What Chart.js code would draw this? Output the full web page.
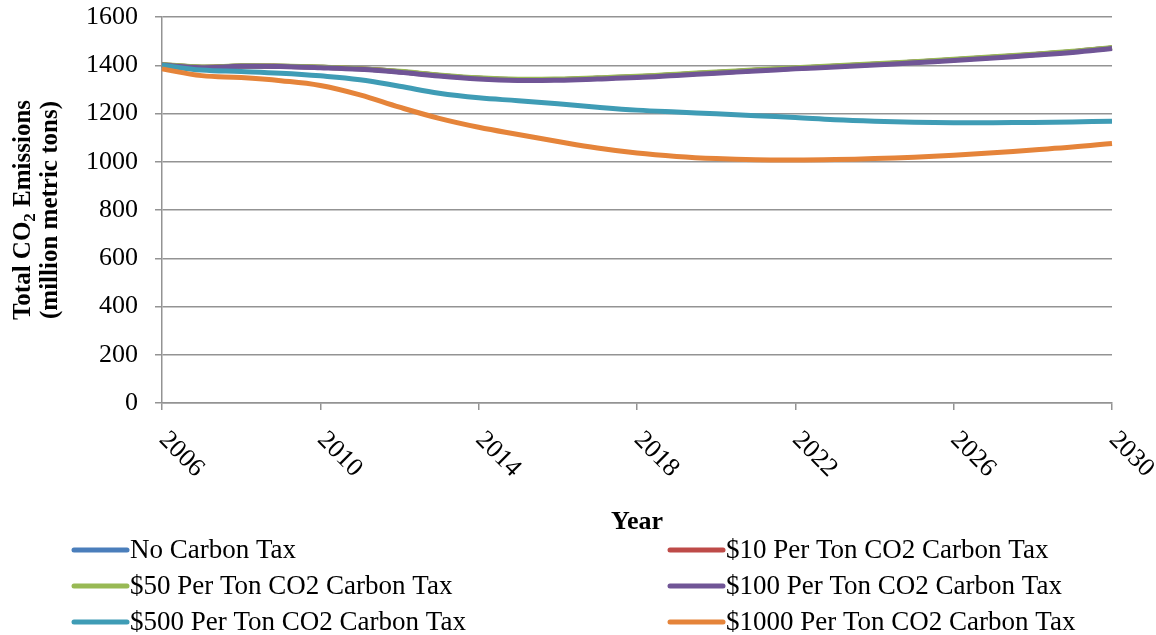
<!DOCTYPE html>
<html lang="en">
<head>
  <meta charset="UTF-8">
  <title>CO2 Emissions by Carbon Tax</title>
  <script src="https://cdn.jsdelivr.net/npm/chart.js"></script>
  <style>
    body, html {
      margin: 0;
      padding: 0;
      background-color: #ffffff;
    }
    .chart-container {
      width: 1156px;
      height: 635px;
    }
  </style>
</head>
<body>
  <div class="chart-container"><canvas id="myChart" width="1156" height="635"></canvas></div>

  <script>
    const years = ['2006','2007','2008','2009','2010','2011','2012','2013','2014','2015','2016','2017','2018',
                   '2019','2020','2021','2022','2023','2024','2025','2026','2027','2028','2029','2030'];

    const noTax   = [1402,1392,1397,1396,1392,1385,1373,1358,1346,1340,1341,1346,1352,1361,1370,1379,1388,1396,1404,1413,1423,1433,1444,1456,1472];
    const tax10   = [1402,1392,1397,1396,1392,1385,1373,1358,1346,1340,1341,1346,1352,1361,1370,1379,1388,1396,1404,1413,1423,1433,1444,1456,1472];
    const tax50   = [1403,1393,1398,1397,1393,1386,1375,1360,1348,1342,1343,1348,1354,1363,1372,1381,1390,1398,1406,1415,1425,1435,1446,1458,1474];
    const tax100  = [1401,1390,1396,1395,1390,1383,1371,1355,1343,1337,1338,1343,1349,1358,1367,1376,1385,1393,1401,1410,1420,1430,1441,1453,1469];
    const tax500  = [1400,1380,1374,1367,1356,1340,1313,1284,1265,1253,1240,1226,1214,1206,1199,1191,1183,1174,1168,1164,1162,1162,1163,1165,1168];
    const tax1000 = [1385,1357,1349,1336,1316,1277,1226,1180,1143,1113,1084,1057,1036,1022,1013,1008,1007,1009,1013,1019,1027,1037,1049,1061,1076];

    const seriesNames = ['No Carbon Tax', '$10 Per Ton CO2 Carbon Tax', '$50 Per Ton CO2 Carbon Tax',
                         '$100 Per Ton CO2 Carbon Tax', '$500 Per Ton CO2 Carbon Tax', '$1000 Per Ton CO2 Carbon Tax'];
    const seriesData = [noTax, tax10, tax50, tax100, tax500, tax1000];
    const seriesColors = ['#4a7ebb', '#be4b48', '#98b954', '#705596', '#3f9cb5', '#e5843a'];

    const yMin = 0, yMax = 1600, yStep = 200;

    const FONT = "'Liberation Serif', 'Times New Roman', serif";
    const GRID = '#939393';

    // x labels rotated clockwise, titles and the two-column legend
    const decorations = {
      id: 'decorations',
      afterDraw(chart) {
        const { ctx, chartArea } = chart;
        const xs = chart.scales.x;
        ctx.save();
        ctx.fillStyle = '#000';

        // rotated year labels, one every 4 years
        ctx.font = '26px ' + FONT;
        ctx.textAlign = 'left';
        ctx.textBaseline = 'middle';
        years.forEach((y, i) => {
          if (i % 4 !== 0) return;
          const px = xs.getPixelForValue(i);
          ctx.save();
          ctx.translate(px + 1, chartArea.bottom + 33);
          ctx.rotate(Math.PI / 4);
          ctx.fillText(y, 0, 0);
          ctx.restore();
        });

        // x title
        ctx.font = 'bold 26px ' + FONT;
        ctx.textAlign = 'center';
        ctx.textBaseline = 'middle';
        ctx.fillText('Year', (chartArea.left + chartArea.right) / 2, 522);

        // y title with subscript 2
        const cy = (chartArea.top + chartArea.bottom) / 2;
        ctx.save();
        ctx.translate(24, cy);
        ctx.rotate(-Math.PI / 2);
        const big = 'bold 25px ' + FONT, small = 'bold 17px ' + FONT;
        ctx.font = big;
        const p1 = 'Total CO', p3 = ' Emissions';
        const w1 = ctx.measureText(p1).width, w3 = ctx.measureText(p3).width;
        ctx.font = small;
        const w2 = ctx.measureText('2').width;
        let sx = -(w1 + w2 + w3) / 2;
        ctx.textAlign = 'left';
        ctx.font = big;
        ctx.fillText(p1, sx, 0);
        ctx.font = small;
        ctx.fillText('2', sx + w1, 7);
        ctx.font = big;
        ctx.fillText(p3, sx + w1 + w2, 0);
        ctx.textAlign = 'center';
        ctx.fillText('(million metric tons)', 0, 27);
        ctx.restore();

        // legend
        ctx.font = '27px ' + FONT;
        ctx.textAlign = 'left';
        ctx.textBaseline = 'middle';
        ctx.lineCap = 'round';
        chart.data.datasets.forEach((ds, i) => {
          const col = i % 2, row = Math.floor(i / 2);
          const lx = col === 0 ? 74 : 670;
          const ly = 550 + row * 36;
          ctx.strokeStyle = ds.borderColor;
          ctx.lineWidth = 5;
          ctx.beginPath();
          ctx.moveTo(lx, ly);
          ctx.lineTo(lx + 53, ly);
          ctx.stroke();
          ctx.fillText(ds.label, lx + 56, ly + 1);
        });
        ctx.restore();
      }
    };

    const ctx = document.getElementById('myChart').getContext('2d');
    const myChart = new Chart(ctx, {
      type: 'line',
      data: {
        labels: years,
        datasets: seriesNames.map((name, i) => ({
          label: name,
          data: seriesData[i],
          borderColor: seriesColors[i],
          backgroundColor: seriesColors[i],
          borderWidth: 5,
          pointRadius: 0,
          tension: 0.4,
          order: seriesNames.length - i
        }))
      },
      options: {
        responsive: false,
        animation: false,
        layout: { padding: { top: 17, right: 44, left: 0, bottom: 0 } },
        plugins: {
          legend: { display: false },
          tooltip: { enabled: false }
        },
        scales: {
          x: {
            type: 'category',
            offset: false,
            afterFit(scale) { scale.height = 232; scale.paddingLeft = 0; scale.paddingRight = 0; },
            ticks: { display: false, autoSkip: false },
            grid: {
              drawOnChartArea: false,
              tickLength: 7,
              lineWidth: 1.5,
              color: c => (c.index % 4 === 0 ? GRID : 'rgba(0,0,0,0)')
            },
            border: { color: GRID, width: 1.5 }
          },
          y: {
            min: yMin,
            max: yMax,
            afterFit(scale) { scale.width = 162; scale.paddingTop = 0; scale.paddingBottom = 0; },
            ticks: {
              stepSize: yStep,
              padding: 17,
              color: '#000',
              font: { family: FONT, size: 26 },
              callback: v => String(v)
            },
            grid: { color: GRID, lineWidth: 1.5, tickLength: 7 },
            border: { color: GRID, width: 1.5 }
          }
        }
      },
      plugins: [decorations]
    });
  </script>
</body>
</html>
